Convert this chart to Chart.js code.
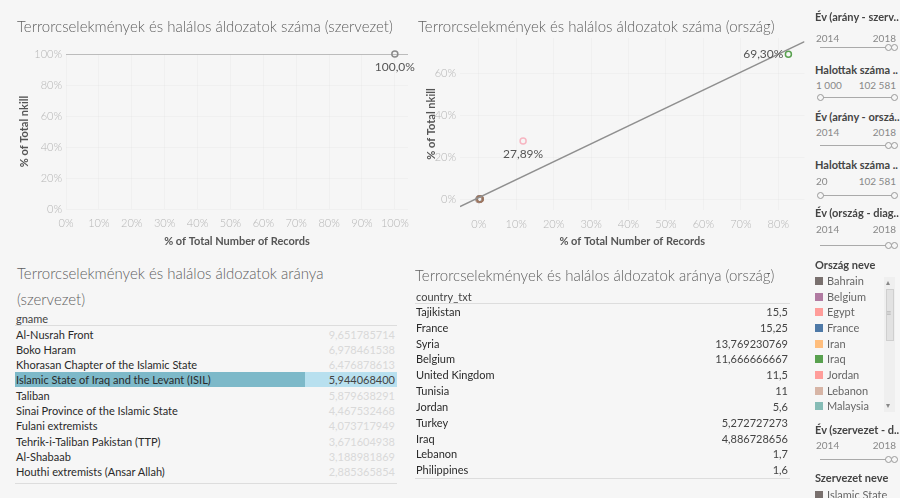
<!DOCTYPE html>
<html>
<head>
<meta charset="utf-8">
<script src="https://cdn.jsdelivr.net/npm/chart.js@4/dist/chart.umd.min.js"></script>
<style>
  body { margin: 0; width: 900px; height: 498px; background: #f6f6f6; font-family: Lato, sans-serif; overflow: hidden; position: relative; }
  .abs { position: absolute; white-space: nowrap; }
  .title { font-size: 15px; font-weight: 300; color: #5f5f5f; line-height: 18px; transform: translateY(-9px); }
  .hdr { font-size: 11px; color: #444; }
  .cell { font-size: 11px; color: #2a2a2a; height: 15px; line-height: 15px; }
  .val { text-align: right; color: #d9d9d9; }
  .line { position: absolute; height: 1px; background: #ddd; }
  .ftitle { font-size: 11px; font-weight: bold; color: #444; transform: translateY(-7px); }
  .fnum { font-size: 10px; color: #888; transform: translateY(-6px); }
  .track { position: absolute; height: 1px; background: #aaa; }
  .knob { position: absolute; width: 5px; height: 5px; border: 1px solid #999; border-radius: 50%; background: #f6f6f6; }
  .sw { position: absolute; width: 8px; height: 8px; }
  .lg { font-size: 11px; color: #666; transform: translateY(-7px); }
  canvas { position: absolute; }
</style>
</head>
<body>
<canvas id="org-chart" width="420" height="260" style="left:0;top:0"></canvas>
<canvas id="country-chart" width="410" height="260" style="left:400px;top:0"></canvas>
<div id="page"></div>
<script>
// scatter: organisation
const orgNames = ['Islamic State of Iraq and the Levant (ISIL)']
const orgRecordShare = [1.0]
const orgKillShare = [1.0]

// scatter: country
const countryNames = ['Iraq', 'Syria', 'Bahrain', 'Belgium', 'Egypt', 'France', 'Iran', 'Jordan', 'Lebanon']
const countryRecordShare = [0.827, 0.1185, 0.001, 0.002, 0.003, 0.002, 0.002, 0.003, 0.004]
const countryKillShare = [0.693, 0.2789, 0.0005, 0.002, 0.003, 0.004, 0.003, 0.002, 0.003]
const countryColors = ['#59a14f', '#f7b6c2', '#79706e', '#b07aa1', '#ff9d9a', '#4e79a7', '#ffbe7d', '#79706e', '#9d7660']
const countryTrendSlope = 0.855
const countryTrendIntercept = 0.009

// table: organisation ratio
const gnames = ['Al-Nusrah Front', 'Boko Haram', 'Khorasan Chapter of the Islamic State',
  'Islamic State of Iraq and the Levant (ISIL)', 'Taliban', 'Sinai Province of the Islamic State',
  'Fulani extremists', 'Tehrik-i-Taliban Pakistan (TTP)', 'Al-Shabaab', 'Houthi extremists (Ansar Allah)']
const gnameRatios = [9.651785714, 6.978461538, 6.476878613, 5.9440684, 5.879638291, 4.467532468,
  4.073717949, 3.671604938, 3.188981869, 2.885365854]
const selectedGname = 'Islamic State of Iraq and the Levant (ISIL)'

// table: country ratio
const countryTxt = ['Tajikistan', 'France', 'Syria', 'Belgium', 'United Kingdom', 'Tunisia',
  'Jordan', 'Turkey', 'Iraq', 'Lebanon', 'Philippines']
const countryRatios = [15.5, 15.25, 13.769230769, 11.666666667, 11.5, 11, 5.6, 5.272727273,
  4.886728656, 1.7, 1.6]

// legend
const legendCountries = ['Bahrain', 'Belgium', 'Egypt', 'France', 'Iran', 'Iraq', 'Jordan', 'Lebanon', 'Malaysia']
const legendColors = ['#79706e', '#b07aa1', '#ff9d9a', '#4e79a7', '#ffbe7d', '#59a14f', '#ff9d9a', '#d7b5a6', '#86bcb6']

const page = document.getElementById('page')
function add (cls, text, style) {
  const el = document.createElement('div')
  el.className = 'abs ' + cls
  if (text != null) el.textContent = text
  Object.assign(el.style, style)
  page.appendChild(el)
  return el
}
const px = v => v + 'px'

// titles
add('title', 'Terrorcselekmények és halálos áldozatok száma (szervezet)', { left: px(17), top: px(26) })
add('title', 'Terrorcselekmények és halálos áldozatok száma (ország)', { left: px(418), top: px(26) })
add('title', 'Terrorcselekmények és halálos áldozatok aránya', { left: px(17), top: px(273) })
add('title', '(szervezet)', { left: px(17), top: px(299) })
add('title', 'Terrorcselekmények és halálos áldozatok aránya (ország)', { left: px(415), top: px(275) })

function renderTable (x0, x1, header, headerY, lineY, rowTop, rowH, names, values, fmt, selected, bottomY, dim) {
  add('hdr', header, { left: px(x0 + 1), top: px(headerY - 7) })
  add('line', null, { left: px(x0), top: px(lineY), width: px(x1 - x0) })
  names.forEach((name, i) => {
    const top = rowTop + i * rowH
    const isSel = name === selected
    if (isSel) {
      add('', null, { left: px(x0), top: px(top), width: px(x1 - x0 - 92), height: px(rowH - 1), background: '#7db9c9' })
      add('', null, { left: px(x1 - 92), top: px(top), width: px(92), height: px(rowH - 1), background: '#b8e0ef' })
    }
    add('cell', name, { left: px(x0 + 1), top: px(top) })
    const v = add('cell val', fmt(values[i]), { left: px(x1 - 150), width: px(148), top: px(top) })
    if (isSel || !dim) v.style.color = '#444'
  })
  add('line', null, { left: px(x0), top: px(bottomY), width: px(x1 - x0) })
}

renderTable(15, 397, 'gname', 319, 325, 326.5, 15.3, gnames, gnameRatios,
  v => v.toFixed(9).replace('.', ','), selectedGname, 483, true)
renderTable(415, 790, 'country_txt', 297, 303, 304, 15.83, countryTxt, countryRatios,
  v => String(v).replace('.', ','), null, 478, false)

// filter cards on the right
function slider (title, titleY, lo, hi, numY, trackY, knobs) {
  add('ftitle', title, { left: px(815), top: px(titleY) })
  add('fnum', lo, { left: px(816), top: px(numY) })
  add('fnum', hi, { left: px(846), width: px(50), textAlign: 'right', top: px(numY) })
  add('track', null, { left: px(820), top: px(trackY), width: px(75) })
  knobs.forEach(k => add('knob', null, { left: px(k - 3), top: px(trackY - 3) }))
}
slider('Év (arány - szerv..', 17, '2014', '2018', 38, 47, [888, 894])
slider('Halottak száma ..', 70, '1 000', '102 581', 85, 97, [820, 894])
slider('Év (arány - orszá..', 117, '2014', '2018', 132, 145, [888, 894])
slider('Halottak száma ..', 165, '20', '102 581', 181, 195, [820, 894])
slider('Év (ország - diag..', 213, '2014', '2018', 229, 245, [888, 894])

add('ftitle', 'Ország neve', { left: px(815), top: px(265) })
legendCountries.forEach((name, i) => {
  const y = 281 + i * 15.65
  add('sw', null, { left: px(815), top: px(y - 4), background: legendColors[i] })
  add('lg', name, { left: px(827), top: px(y) })
})
add('', null, { left: px(884), top: px(277), width: px(11), height: px(135), background: '#efefef' })
add('', null, { left: px(886), top: px(289), width: px(6), height: px(50), background: '#e2e2e2', border: '1px solid #cfcfcf' })
add('lg', '▴', { left: px(886), top: px(284), fontSize: '8px', color: '#888' })
add('lg', '▾', { left: px(886), top: px(407), fontSize: '8px', color: '#888' })
add('lg', '≡', { left: px(886), top: px(314), fontSize: '9px', color: '#aaa' })

slider('Év (szervezet - d..', 430, '2014', '2018', 445, 459, [888, 894])
add('ftitle', 'Szervezet neve', { left: px(815), top: px(478) })
add('sw', null, { left: px(815), top: px(491), background: '#79706e' })
add('lg', 'Islamic State', { left: px(827), top: px(495) })

// charts
const pointLabels = {
  id: 'pointLabels',
  afterDatasetsDraw (chart) {
    const ctx = chart.ctx
    chart.data.datasets.forEach((ds, i) => {
      if (!ds.labelText) return
      chart.getDatasetMeta(i).data.forEach((el, j) => {
        const side = ds.labelSide[j]
        if (!side) return
        ctx.save()
        ctx.font = '12px Lato, sans-serif'
        ctx.fillStyle = '#555'
        ctx.textBaseline = 'middle'
        if (side === 'left') {
          ctx.textAlign = 'right'
          ctx.fillText(ds.labelText[j], el.x - 5, el.y)
        } else {
          ctx.textAlign = 'center'
          ctx.fillText(ds.labelText[j], el.x, el.y + 13)
        }
        ctx.restore()
      })
    })
  }
}

const pct = v => Math.round(v * 100) + '%'
function axis (min, max, step, title, size, horizontal) {
  return {
    type: 'linear',
    min,
    max,
    afterFit (scale) {
      if (horizontal) scale.height = size
      else scale.width = size
    },
    title: { display: true, text: title, color: '#555', font: { family: 'Lato', size: 11, weight: 'bold' } },
    grid: { color: 'rgba(0,0,0,0.022)', drawTicks: false },
    border: { display: false },
    ticks: {
      stepSize: step,
      includeBounds: false,
      autoSkip: false,
      maxRotation: 0,
      padding: horizontal ? 8 : 4,
      color: '#b5b5b5',
      font: { family: 'Lato', size: 11, weight: 300 },
      callback: pct
    }
  }
}

function trendPoints (xMin, xMax, slope, intercept) {
  return [{ x: xMin, y: intercept + slope * xMin }, { x: xMax, y: intercept + slope * xMax }]
}

const orgX = [0, 1.04]
new Chart(document.getElementById('org-chart'), {
  type: 'scatter',
  data: {
    datasets: [{
      data: orgRecordShare.map((x, i) => ({ x, y: orgKillShare[i] })),
      labelText: orgKillShare.map(v => (v * 100).toFixed(1).replace('.', ',') + '%'),
      labelSide: orgKillShare.map(() => 'below'),
      pointRadius: 3,
      pointBorderWidth: 1.5,
      pointBackgroundColor: 'rgba(0,0,0,0)',
      borderColor: '#8a8a8a',
      clip: false
    }, {
      type: 'line',
      data: orgX.map(x => ({ x, y: orgKillShare[0] })),
      borderColor: '#aaa',
      borderWidth: 1.5,
      pointRadius: 0
    }]
  },
  options: {
    responsive: false,
    animation: false,
    layout: { padding: { left: 14, right: 12, top: 54, bottom: 8 } },
    scales: {
      x: axis(orgX[0], orgX[1], 0.1, '% of Total Number of Records', 43, true),
      y: axis(0, 1, 0.2, '% of Total nkill', 52, false)
    },
    plugins: { legend: { display: false }, tooltip: { enabled: false } }
  },
  plugins: [pointLabels]
})

const countryX = [-0.05, 0.87]
new Chart(document.getElementById('country-chart'), {
  type: 'scatter',
  data: {
    datasets: [{
      type: 'line',
      data: trendPoints(countryX[0], countryX[1], countryTrendSlope, countryTrendIntercept),
      borderColor: '#8f8f8f',
      borderWidth: 1.5,
      pointRadius: 0
    }, {
      data: countryRecordShare.map((x, i) => ({ x, y: countryKillShare[i] })),
      labelText: countryKillShare.map(v => (v * 100).toFixed(2).replace('.', ',') + '%'),
      labelSide: countryNames.map(n => ({ Iraq: 'left', Syria: 'below' })[n]),
      pointRadius: 3,
      pointBorderWidth: 1.5,
      pointBackgroundColor: 'rgba(0,0,0,0)',
      pointBorderColor: countryColors,
      clip: false
    }]
  },
  options: {
    responsive: false,
    animation: false,
    layout: { padding: { left: 21, right: 5, top: 38, bottom: 8 } },
    scales: {
      x: axis(countryX[0], countryX[1], 0.1, '% of Total Number of Records', 42, true),
      y: axis(-0.05, 0.77, 0.2, '% of Total nkill', 39, false)
    },
    plugins: { legend: { display: false }, tooltip: { enabled: false } }
  },
  plugins: [pointLabels]
})
</script>
</body>
</html>
